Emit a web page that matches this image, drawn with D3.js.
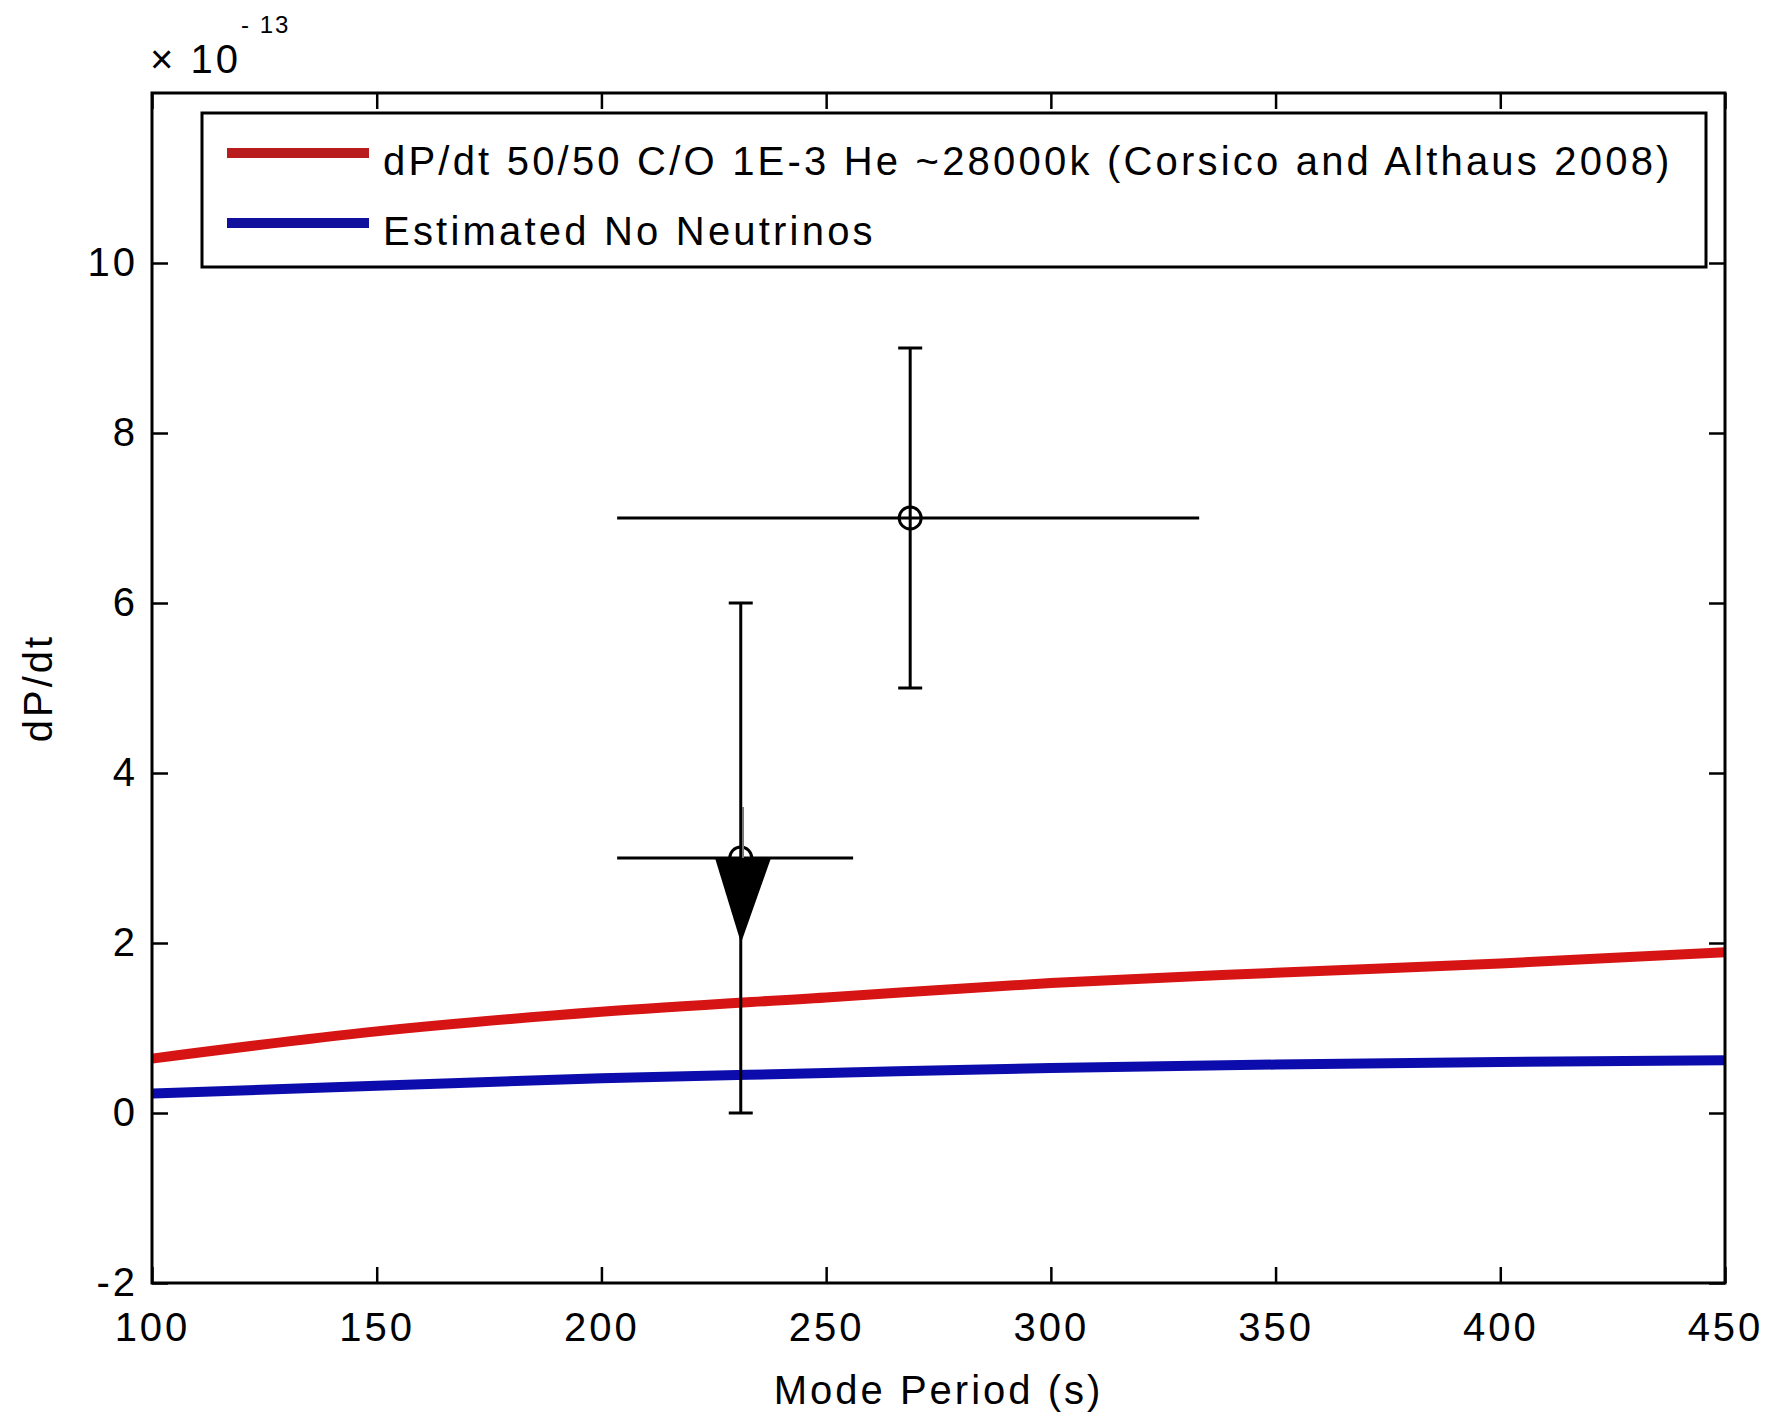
<!DOCTYPE html>
<html>
<head>
<meta charset="utf-8">
<script src="https://cdn.jsdelivr.net/npm/d3@7"></script>
<style>
  body { margin: 0; background: #fff; }
  text { font-family: "Liberation Sans", Arial, sans-serif; fill: #000; }
</style>
</head>
<body>
<svg id="chart"></svg>
<script>
// Model curves (dP/dt in units of 1e-13)
const periods = [100, 150, 200, 250, 300, 350, 400, 450];
const dpdtModel = [0.64, 0.96, 1.19, 1.36, 1.53, 1.65, 1.76, 1.89];
const dpdtNoNeutrino = [0.23, 0.32, 0.41, 0.47, 0.53, 0.57, 0.60, 0.62];

// Measured points with error bars
const obsPeriod = [231, 268.7];
const obsDpdt = [3, 7];
const obsDpdtLow = [0, 5];
const obsDpdtHigh = [6, 9];
const obsPeriodLow = [203.5, 203.5];
const obsPeriodHigh = [256, 333];

// Down arrow on the first point (x, start y, end y, head length in y units)
const arrow = {x: 231.5, y0: 3.6, y1: 2.0, head: 1.0};

const legendLabels = [
    "dP/dt 50/50 C/O 1E-3 He ~28000k (Corsico and Althaus 2008)",
    "Estimated No Neutrinos"
];
const xTicks = [100, 150, 200, 250, 300, 350, 400, 450];
const yTicks = [-2, 0, 2, 4, 6, 8, 10];

const width = 1779, height = 1417;
const margin = {top: 93, right: 54, bottom: 134, left: 152};
const fontSize = 40;

const svg = d3.select("#chart")
    .attr("width", width)
    .attr("height", height)
    .style("background", "#fff");

const xScale = d3.scaleLinear()
    .domain([100, 450])
    .range([margin.left, width - margin.right]);

const yScale = d3.scaleLinear()
    .domain([-2, 12])
    .range([height - margin.bottom, margin.top]);

// Curves
const line = d3.line()
    .x(d => xScale(d[0]))
    .y(d => yScale(d[1]))
    .curve(d3.curveMonotoneX);

svg.append("path")
    .datum(periods.map((p, i) => [p, dpdtModel[i]]))
    .attr("d", line)
    .attr("fill", "none")
    .attr("stroke", "#d61414")
    .attr("stroke-width", 10);

svg.append("path")
    .datum(periods.map((p, i) => [p, dpdtNoNeutrino[i]]))
    .attr("d", line)
    .attr("fill", "none")
    .attr("stroke", "#0c0cac")
    .attr("stroke-width", 10);

// Error bars
const obs = obsPeriod.map((p, i) => ({
    x: p, y: obsDpdt[i],
    ylo: obsDpdtLow[i], yhi: obsDpdtHigh[i],
    xlo: obsPeriodLow[i], xhi: obsPeriodHigh[i]
}));

const bars = svg.append("g")
    .attr("stroke", "#000")
    .attr("stroke-width", 3)
    .attr("fill", "none");

obs.forEach(d => {
    bars.append("line")
        .attr("x1", xScale(d.x)).attr("x2", xScale(d.x))
        .attr("y1", yScale(d.ylo)).attr("y2", yScale(d.yhi));
    [d.ylo, d.yhi].forEach(v => {
        bars.append("line")
            .attr("x1", xScale(d.x) - 12).attr("x2", xScale(d.x) + 12)
            .attr("y1", yScale(v)).attr("y2", yScale(v));
    });
    bars.append("line")
        .attr("x1", xScale(d.xlo)).attr("x2", xScale(d.xhi))
        .attr("y1", yScale(d.y)).attr("y2", yScale(d.y));
    bars.append("circle")
        .attr("cx", xScale(d.x))
        .attr("cy", yScale(d.y))
        .attr("r", 11);
});

// Arrow: thin shaft and a filled head
const ax = xScale(arrow.x);
const headBase = yScale(arrow.y1 + arrow.head);
svg.append("line")
    .attr("x1", ax).attr("x2", ax)
    .attr("y1", yScale(arrow.y0)).attr("y2", headBase)
    .attr("stroke", "#777")
    .attr("stroke-width", 2);
svg.append("path")
    .attr("d", `M${ax - 28},${headBase}L${ax + 28},${headBase}L${ax - 2},${yScale(arrow.y1)}Z`)
    .attr("fill", "#000");

// Axes with inward ticks on all four sides
function styleAxis(g) {
    g.select(".domain").remove();
    g.selectAll(".tick line").attr("stroke", "#000").attr("stroke-width", 2.5);
    g.selectAll("text")
        .attr("font-size", fontSize)
        .style("letter-spacing", "3px")
        .attr("fill", "#000");
    g.attr("font-family", null);
}

svg.append("g")
    .attr("transform", `translate(0,${height - margin.bottom})`)
    .call(d3.axisBottom(xScale).tickValues(xTicks).tickSizeInner(-16).tickSizeOuter(0).tickPadding(30))
    .call(styleAxis);

svg.append("g")
    .attr("transform", `translate(0,${margin.top})`)
    .call(d3.axisTop(xScale).tickValues(xTicks).tickSizeInner(-16).tickSizeOuter(0).tickFormat(""))
    .call(styleAxis);

svg.append("g")
    .attr("transform", `translate(${margin.left},0)`)
    .call(d3.axisLeft(yScale).tickValues(yTicks).tickSizeInner(-16).tickSizeOuter(0)
        .tickPadding(14).tickFormat(d => String(d)))
    .call(styleAxis);

svg.append("g")
    .attr("transform", `translate(${width - margin.right},0)`)
    .call(d3.axisRight(yScale).tickValues(yTicks).tickSizeInner(-16).tickSizeOuter(0).tickFormat(""))
    .call(styleAxis);

// Axes box
svg.append("rect")
    .attr("x", margin.left)
    .attr("y", margin.top)
    .attr("width", width - margin.left - margin.right)
    .attr("height", height - margin.top - margin.bottom)
    .attr("fill", "none")
    .attr("stroke", "#000")
    .attr("stroke-width", 3);

// Exponent label
svg.append("text")
    .attr("x", 150).attr("y", 73)
    .attr("font-size", fontSize)
    .style("letter-spacing", "3px")
    .text("\u00d7 10");
svg.append("text")
    .attr("x", 241).attr("y", 33)
    .attr("font-size", 24)
    .style("letter-spacing", "2px")
    .text("- 13");

// Axis titles
svg.append("text")
    .attr("x", (margin.left + width - margin.right) / 2)
    .attr("y", 1404)
    .attr("text-anchor", "middle")
    .attr("font-size", fontSize)
    .style("letter-spacing", "3px")
    .text("Mode Period (s)");

svg.append("text")
    .attr("transform", `translate(52,${(margin.top + height - margin.bottom) / 2}) rotate(-90)`)
    .attr("text-anchor", "middle")
    .attr("font-size", fontSize)
    .style("letter-spacing", "3px")
    .text("dP/dt");

// Legend
const legend = svg.append("g");
legend.append("rect")
    .attr("x", 202).attr("y", 113)
    .attr("width", 1504).attr("height", 154)
    .attr("fill", "#fff")
    .attr("stroke", "#000")
    .attr("stroke-width", 3);

const legendColors = ["#b81c1c", "#10109c"];
legendLabels.forEach((label, i) => {
    const ly = 153 + i * 70;
    legend.append("line")
        .attr("x1", 227).attr("x2", 369)
        .attr("y1", ly).attr("y2", ly)
        .attr("stroke", legendColors[i])
        .attr("stroke-width", 10);
    legend.append("text")
        .attr("x", 383).attr("y", ly + 22)
        .attr("font-size", fontSize)
        .style("letter-spacing", "3.2px")
        .text(label);
});
</script>
</body>
</html>
